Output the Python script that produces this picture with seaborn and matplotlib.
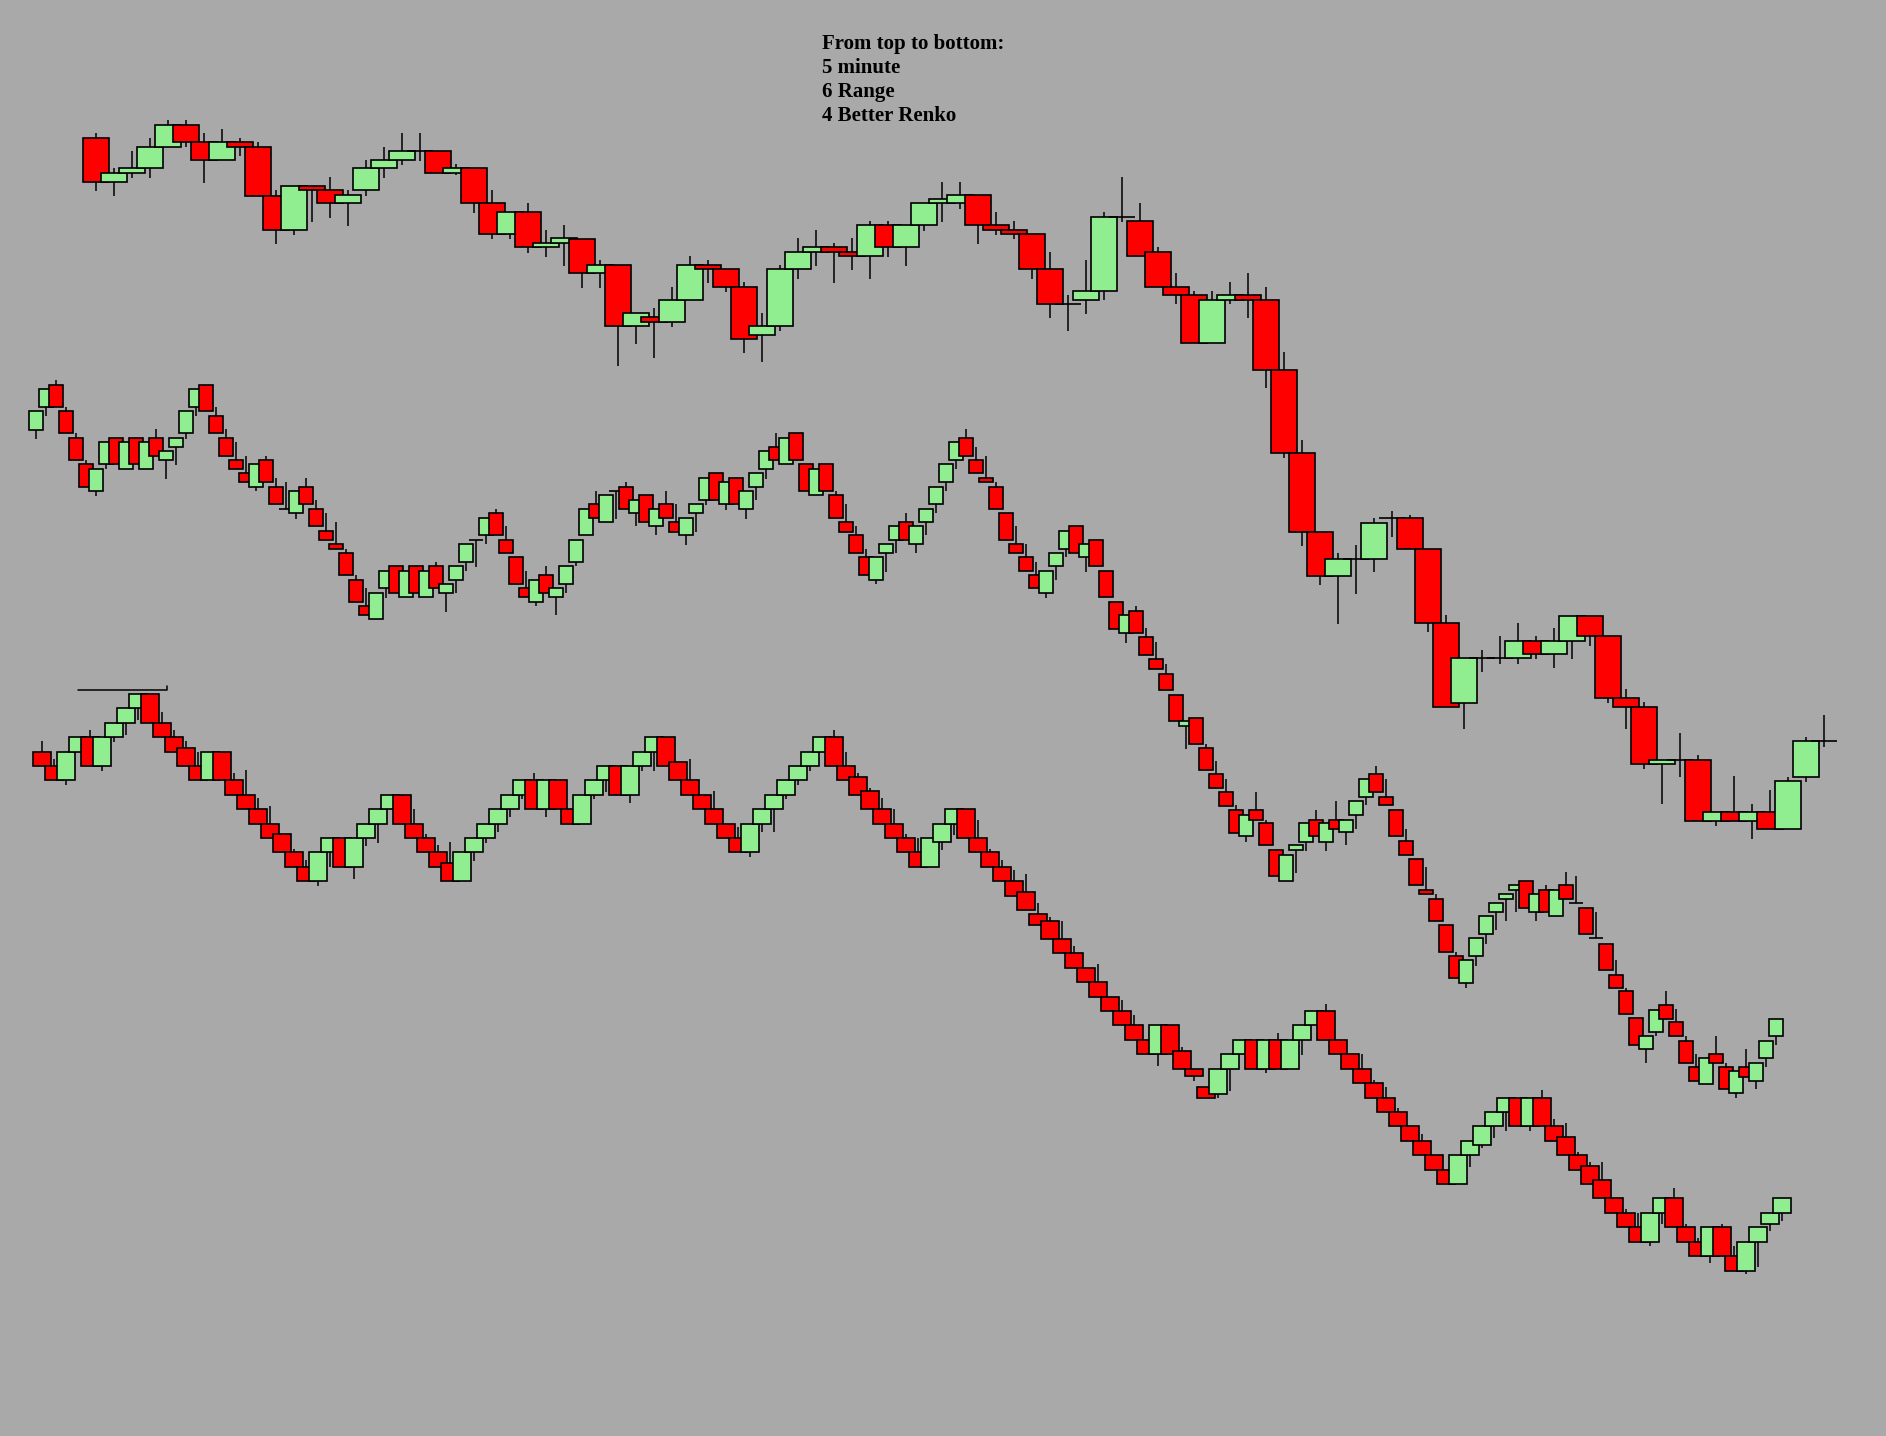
import numpy as np
import seaborn as sns
import matplotlib.pyplot as plt

# ---- data (prices) ----
# 5 minute candles
top_open = [1298, 1254, 1263, 1268, 1289, 1311, 1294, 1276, 1294, 1289,
            1240, 1206, 1250, 1246, 1233, 1246, 1268, 1276, 1285, 1285,
            1263, 1268, 1233, 1202, 1224, 1189, 1193, 1197, 1163, 1171,
            1110, 1119, 1114, 1136, 1171, 1167, 1149, 1101, 1110, 1167,
            1184, 1189, 1184, 1180, 1211, 1189, 1211, 1233, 1233, 1241,
            1211, 1206, 1202, 1167, 1132, 1136, 1145, 1219, 1215, 1184,
            1149, 1141, 1093, 1136, 1141, 1136, 1066, 983, 904, 860,
            877, 877, 918, 918, 887, 813, 733, 778, 778, 778,
            795, 782, 795, 820, 800, 738, 729, 672, 676, 676,
            615, 624, 615, 624, 607, 659, 695]
top_high = [1303, 1268, 1285, 1298, 1316, 1316, 1303, 1307, 1298, 1294,
            1246, 1250, 1250, 1259, 1246, 1276, 1289, 1303, 1303, 1285,
            1272, 1268, 1246, 1224, 1233, 1206, 1211, 1197, 1176, 1171,
            1123, 1128, 1149, 1180, 1176, 1167, 1154, 1123, 1171, 1198,
            1206, 1193, 1198, 1215, 1215, 1211, 1233, 1254, 1254, 1241,
            1224, 1215, 1202, 1184, 1141, 1176, 1224, 1259, 1233, 1189,
            1163, 1145, 1145, 1154, 1163, 1149, 1084, 996, 904, 883,
            891, 918, 925, 921, 887, 821, 778, 786, 800, 813,
            800, 808, 820, 820, 800, 747, 734, 676, 703, 681,
            624, 660, 632, 646, 659, 699, 721]
top_low = [1245, 1240, 1258, 1258, 1289, 1289, 1253, 1276, 1280, 1240,
           1192, 1201, 1214, 1218, 1210, 1240, 1258, 1271, 1275, 1263,
           1261, 1223, 1197, 1197, 1183, 1179, 1170, 1148, 1148, 1070,
           1092, 1078, 1109, 1136, 1153, 1144, 1083, 1074, 1105, 1157,
           1170, 1153, 1166, 1157, 1179, 1170, 1205, 1214, 1227, 1192,
           1201, 1197, 1157, 1118, 1105, 1122, 1136, 1214, 1180, 1149,
           1132, 1093, 1093, 1132, 1118, 1048, 978, 890, 851, 812,
           842, 864, 899, 887, 804, 729, 707, 764, 772, 772,
           777, 768, 777, 790, 733, 707, 667, 632, 659, 615,
           610, 615, 597, 607, 607, 654, 689]
top_close = [1254, 1263, 1268, 1289, 1311, 1294, 1276, 1294, 1289, 1240,
             1206, 1250, 1246, 1233, 1241, 1268, 1276, 1285, 1285, 1263,
             1268, 1233, 1202, 1224, 1189, 1193, 1198, 1163, 1171, 1110,
             1123, 1114, 1136, 1171, 1167, 1149, 1097, 1110, 1167, 1184,
             1189, 1184, 1180, 1211, 1189, 1211, 1233, 1237, 1241, 1211,
             1206, 1202, 1167, 1132, 1132, 1145, 1219, 1219, 1180, 1149,
             1141, 1093, 1136, 1141, 1136, 1066, 983, 904, 860, 877,
             877, 913, 918, 887, 813, 729, 778, 778, 778, 795,
             782, 795, 820, 800, 738, 729, 672, 676, 676, 615,
             624, 615, 624, 607, 655, 695, 695]

# 6 range candles
range_open = [1006, 1029, 1051, 1025, 998, 972, 945, 972, 998, 967,
              998, 967, 998, 976, 989, 1003, 1029, 1051, 1020, 998,
              976, 963, 949, 976, 949, 927, 923, 949, 927, 905,
              892, 883, 856, 830, 817, 848, 870, 839, 870, 839,
              870, 843, 856, 874, 896, 901, 923, 896, 879, 848,
              834, 861, 839, 852, 874, 901, 932, 914, 945, 949,
              923, 941, 910, 932, 914, 901, 923, 936, 963, 932,
              958, 927, 949, 967, 989, 972, 1003, 972, 941, 972,
              941, 914, 901, 879, 856, 883, 896, 914, 892, 914,
              932, 954, 976, 998, 976, 958, 949, 923, 892, 879,
              861, 843, 870, 887, 910, 879, 896, 865, 834, 803,
              825, 799, 777, 762, 741, 710, 718, 688, 662, 644,
              626, 600, 626, 613, 586, 555, 586, 594, 616, 594,
              616, 604, 621, 639, 662, 639, 626, 595, 577, 546,
              537, 511, 480, 453, 480, 502, 524, 537, 546, 555,
              524, 546, 520, 551, 533, 528, 498, 492, 461, 445,
              418, 387, 404, 431, 414, 395, 369, 352, 382, 369,
              343, 369, 355, 378, 400]
range_high = [1025, 1047, 1056, 1029, 1003, 976, 967, 994, 998, 994,
              998, 994, 1007, 985, 998, 1025, 1047, 1051, 1029, 1007,
              994, 980, 972, 980, 958, 954, 945, 958, 936, 923,
              914, 887, 861, 848, 843, 865, 870, 865, 870, 865,
              874, 852, 870, 892, 896, 918, 927, 910, 879, 865,
              856, 870, 848, 870, 896, 927, 945, 941, 945, 954,
              936, 941, 927, 945, 932, 918, 932, 958, 963, 954,
              958, 945, 963, 985, 1003, 998, 1003, 972, 967, 972,
              945, 932, 910, 887, 879, 892, 910, 923, 910, 927,
              949, 972, 994, 1007, 989, 980, 954, 923, 910, 892,
              874, 865, 883, 905, 910, 892, 896, 865, 834, 821,
              830, 808, 794, 772, 741, 715, 718, 692, 675, 657,
              631, 621, 644, 616, 586, 581, 591, 613, 626, 613,
              635, 616, 635, 657, 670, 657, 626, 607, 577, 569,
              542, 511, 484, 476, 498, 520, 533, 542, 551, 555,
              542, 551, 546, 564, 560, 528, 524, 492, 476, 448,
              418, 400, 426, 445, 427, 400, 382, 378, 400, 373,
              365, 387, 373, 395, 417]
range_low = [997, 1020, 1029, 1003, 976, 949, 940, 967, 972, 967,
             972, 967, 980, 957, 971, 997, 1020, 1025, 1003, 980,
             967, 954, 945, 954, 932, 927, 917, 932, 910, 896,
             887, 861, 834, 821, 817, 838, 843, 839, 843, 839,
             848, 824, 843, 865, 869, 892, 901, 883, 852, 839,
             830, 843, 821, 843, 870, 901, 918, 914, 917, 927,
             910, 914, 901, 918, 904, 891, 904, 931, 936, 926,
             932, 917, 936, 957, 976, 972, 976, 945, 941, 945,
             918, 904, 883, 861, 852, 864, 883, 896, 883, 901,
             923, 945, 967, 980, 963, 954, 927, 896, 883, 865,
             848, 838, 856, 879, 883, 864, 870, 839, 807, 793,
             803, 781, 767, 746, 715, 687, 692, 666, 648, 630,
             603, 594, 616, 591, 560, 555, 563, 585, 600, 585,
             607, 591, 607, 631, 644, 631, 600, 581, 551, 542,
             515, 484, 458, 448, 470, 492, 506, 515, 524, 528,
             515, 524, 520, 537, 533, 502, 498, 466, 448, 422,
             391, 373, 400, 417, 400, 373, 355, 352, 373, 347,
             338, 359, 347, 369, 391]
range_close = [1025, 1047, 1029, 1003, 976, 949, 967, 994, 972, 994,
               972, 994, 980, 985, 998, 1025, 1047, 1025, 1003, 980,
               967, 954, 972, 954, 932, 927, 945, 932, 910, 896,
               887, 861, 834, 821, 843, 865, 843, 865, 843, 865,
               848, 852, 870, 892, 896, 918, 901, 883, 852, 839,
               856, 843, 848, 870, 896, 927, 918, 941, 945, 927,
               936, 914, 927, 918, 904, 918, 932, 958, 936, 954,
               932, 945, 963, 985, 976, 998, 976, 945, 967, 945,
               918, 904, 883, 861, 879, 892, 910, 896, 910, 927,
               949, 972, 994, 980, 963, 954, 927, 896, 883, 865,
               848, 865, 883, 905, 883, 892, 870, 839, 807, 821,
               803, 781, 767, 746, 715, 715, 692, 666, 648, 630,
               603, 621, 616, 591, 560, 581, 591, 613, 600, 613,
               607, 616, 635, 657, 644, 631, 600, 581, 551, 542,
               515, 484, 458, 476, 498, 520, 533, 542, 551, 528,
               542, 524, 546, 537, 533, 502, 498, 466, 448, 422,
               391, 400, 426, 417, 400, 373, 355, 378, 373, 347,
               365, 359, 373, 395, 417]

# 4 better renko bricks
renko_open = [684, 670, 656, 684, 699, 670, 699, 713, 728, 742,
              713, 699, 688, 670, 656, 684, 656, 641, 627, 612,
              602, 584, 569, 555, 584, 598, 569, 598, 612, 627,
              641, 612, 598, 584, 573, 555, 584, 598, 612, 627,
              641, 656, 627, 656, 627, 612, 641, 656, 670, 641,
              670, 684, 699, 674, 656, 641, 627, 612, 598, 584,
              612, 627, 641, 656, 670, 684, 699, 670, 659, 645,
              627, 612, 598, 584, 569, 594, 612, 627, 598, 584,
              569, 555, 544, 522, 515, 497, 483, 468, 454, 439,
              425, 411, 396, 382, 411, 385, 367, 349, 342, 367,
              382, 396, 367, 396, 367, 396, 411, 425, 396, 382,
              367, 353, 338, 324, 310, 295, 281, 266, 252, 281,
              291, 310, 324, 338, 310, 338, 310, 299, 281, 270,
              256, 238, 223, 209, 194, 223, 238, 209, 194, 180,
              209, 180, 165, 194, 212, 223]
renko_high = [695, 677, 684, 699, 706, 699, 713, 728, 742, 742,
              724, 706, 695, 684, 684, 684, 663, 666, 638, 630,
              602, 587, 576, 584, 598, 598, 598, 612, 627, 641,
              641, 627, 602, 591, 594, 584, 598, 612, 627, 641,
              656, 663, 656, 656, 627, 641, 656, 670, 670, 670,
              684, 699, 699, 674, 677, 641, 645, 612, 609, 612,
              627, 641, 656, 670, 684, 699, 706, 684, 663, 648,
              638, 627, 602, 598, 598, 612, 627, 627, 616, 587,
              576, 566, 562, 533, 519, 515, 490, 468, 472, 439,
              436, 421, 396, 411, 411, 389, 367, 349, 367, 382,
              396, 396, 396, 403, 396, 411, 425, 432, 396, 382,
              382, 356, 349, 328, 310, 302, 281, 266, 281, 295,
              310, 324, 338, 338, 338, 346, 317, 313, 284, 274,
              274, 238, 227, 223, 223, 238, 248, 212, 198, 209,
              212, 190, 194, 209, 223, 238]
renko_low = [670, 656, 651, 684, 670, 665, 694, 701, 716, 713,
             699, 684, 670, 656, 656, 656, 641, 627, 612, 598,
             584, 569, 555, 550, 569, 569, 557, 590, 593, 627,
             612, 598, 584, 569, 555, 555, 575, 593, 604, 619,
             637, 627, 619, 627, 612, 612, 637, 644, 641, 633,
             665, 665, 670, 656, 641, 627, 612, 598, 584, 579,
             604, 604, 637, 651, 665, 684, 670, 656, 641, 627,
             612, 598, 584, 569, 569, 586, 601, 598, 584, 569,
             555, 540, 526, 511, 497, 483, 468, 454, 439, 425,
             411, 396, 382, 370, 382, 367, 355, 338, 338, 345,
             382, 367, 363, 367, 367, 381, 411, 396, 382, 367,
             353, 338, 324, 310, 295, 281, 266, 252, 252, 269,
             288, 298, 305, 310, 305, 310, 295, 281, 266, 252,
             238, 223, 209, 194, 190, 212, 209, 194, 180, 173,
             180, 165, 162, 169, 205, 215]
renko_close = [670, 656, 684, 699, 670, 699, 713, 728, 742, 713,
               699, 684, 670, 656, 684, 656, 641, 627, 612, 598,
               584, 569, 555, 584, 598, 569, 598, 612, 627, 641,
               612, 598, 584, 569, 555, 584, 598, 612, 627, 641,
               656, 627, 656, 627, 612, 641, 656, 670, 641, 670,
               684, 699, 670, 656, 641, 627, 612, 598, 584, 612,
               627, 641, 656, 670, 684, 699, 670, 656, 641, 627,
               612, 598, 584, 569, 598, 612, 627, 598, 584, 569,
               555, 540, 526, 511, 497, 483, 468, 454, 439, 425,
               411, 396, 382, 411, 382, 367, 360, 338, 367, 382,
               396, 367, 396, 367, 396, 411, 425, 396, 382, 367,
               353, 338, 324, 310, 295, 281, 266, 252, 281, 295,
               310, 324, 338, 310, 338, 310, 295, 281, 266, 252,
               238, 223, 209, 194, 223, 238, 209, 194, 180, 209,
               180, 165, 194, 209, 223, 238]

# level line drawn over the renko chart (brick index range, price)
renko_line_start = 3.0
renko_line_end = 10.4
renko_line_level = 746

title_lines = ['From top to bottom:', '5 minute', '6 Range', '4 Better Renko']

# ---- style ----
BG = '#a9a9a9'
GREEN = '#90ee90'
RED = '#ff0000'
W, H = 1886, 1436

sns.set_theme(style='white', rc={'figure.facecolor': BG, 'axes.facecolor': BG,
                                 'savefig.facecolor': BG})

fig = plt.figure(figsize=(W / 100, H / 100), dpi=100)


def candle_axes(first_px, step_px):
    ax = fig.add_axes([0, 0, 1, 1])
    ax.set_xlim(-first_px / step_px, (W - first_px) / step_px)
    ax.set_ylim(0, H)
    ax.axis('off')
    ax.patch.set_alpha(0)
    return ax


def draw_candles(ax, o, h, l, c, width):
    o, h, l, c = map(np.asarray, (o, h, l, c))
    x = np.arange(len(o))
    colors = np.where(c >= o, GREEN, RED)
    ax.vlines(x, l, h, color='black', linewidth=1.1, zorder=1)
    ax.bar(x, np.abs(c - o), bottom=np.minimum(o, c), width=width,
           color=colors, edgecolor='black', linewidth=1.2, zorder=2)


ax_top = candle_axes(96.5, 18.0)
draw_candles(ax_top, top_open, top_high, top_low, top_close, 26 / 18)

ax_mid = candle_axes(36.3, 10.0)
draw_candles(ax_mid, range_open, range_high, range_low, range_close, 14 / 10)

ax_bot = candle_axes(42.4, 12.0)
draw_candles(ax_bot, renko_open, renko_high, renko_low, renko_close, 18 / 12)
ax_bot.plot([renko_line_start, renko_line_end, renko_line_end],
            [renko_line_level, renko_line_level, renko_line_level + 4],
            color='black', linewidth=1.1)

fig.text(822 / W, 1 - 34 / H, '\n'.join(title_lines), ha='left', va='top',
         fontsize=15, fontweight='bold', family='Liberation Serif',
         color='black', linespacing=1.27)

fig.savefig('out.png', dpi=100, facecolor=BG)
